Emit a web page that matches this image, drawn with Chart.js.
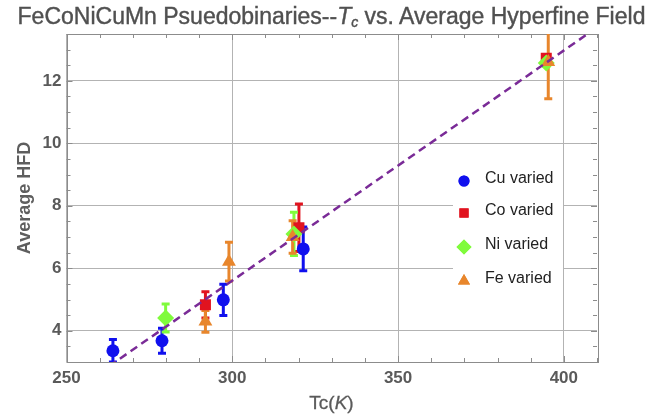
<!DOCTYPE html>
<html lang="en">
<head>
    <meta charset="UTF-8">
    <title>FeCoNiCuMn Psuedobinaries</title>
    <script src="https://cdn.jsdelivr.net/npm/chart.js"></script>
    <style>
        body {
            margin: 0;
            background: #fff;
            font-family: 'Liberation Sans', Arial, sans-serif;
        }
        .wrap {
            position: relative;
            width: 663px;
            height: 419px;
        }
        .title {
            position: absolute;
            left: 0;
            top: 3px;
            width: 663px;
            text-align: center;
            font-size: 23px;
            color: #505050;
            -webkit-text-stroke: 0.4px #505050;
            white-space: nowrap;
        }
        .title sub {
            font-size: 14px;
            vertical-align: -3px;
            line-height: 0;
        }
        .xlabel {
            position: absolute;
            left: 66px;
            width: 531px;
            top: 392px;
            text-align: center;
            font-size: 19px;
            color: #5a5a5a;
            -webkit-text-stroke: 0.3px #5a5a5a;
        }
        canvas {
            position: absolute;
            left: 0;
            top: 0;
        }
    </style>
</head>
<body>
    <div class="wrap">
        <canvas id="chart" width="663" height="419"></canvas>
        <div class="title">FeCoNiCuMn Psuedobinaries--<i>T</i><sub><i>c</i></sub> vs. Average Hyperfine Field</div>
        <div class="xlabel">Tc(<i>K</i>)</div>
    </div>

    <script>
        // data
        const cuX = [264.0, 278.8, 297.3, 321.4];
        const cuY = [3.36, 3.68, 4.99, 6.62];
        const cuErr = [0.36, 0.40, 0.50, 0.70];

        const coX = [291.9, 320.1, 394.7];
        const coY = [4.83, 7.30, 12.72];
        const coErr = [0.42, 0.76, 0.12];

        const niX = [279.9, 318.6, 394.7];
        const niY = [4.41, 7.10, 12.57];
        const niErr = [0.45, 0.69, 0.10];

        const feX = [291.9, 299.0, 318.2, 395.3];
        const feY = [4.30, 6.21, 7.00, 12.60];
        const feErr = [0.35, 0.62, 0.52, 1.17];

        // fitted line endpoints
        const fitX = [250, 410];
        const fitY = [1.92, 13.71];

        const xTicks = [250, 300, 350, 400];
        const yTicks = [4, 6, 8, 10, 12];

        const series = [
            { label: 'Cu varied', xs: cuX, ys: cuY, err: cuErr, color: '#1010ee', style: 'circle', radius: 6.5, legendRadius: 5.5 },
            { label: 'Co varied', xs: coX, ys: coY, err: coErr, color: '#e1131f', style: 'rect', radius: 7.8, legendRadius: 6.5 },
            { label: 'Ni varied', xs: niX, ys: niY, err: niErr, color: '#80fb3c', style: 'rectRot', radius: 8.5, legendRadius: 7.5 },
            { label: 'Fe varied', xs: feX, ys: feY, err: feErr, color: '#e8862c', style: 'triangle', radius: 8, legendRadius: 7 }
        ];

        const toPoints = (xs, ys) => xs.map((x, i) => ({ x: x, y: ys[i] }));

        const errorBars = {
            id: 'errorBars',
            beforeDatasetsDraw(chart) {
                const { ctx, chartArea: a, scales: { x, y } } = chart;
                ctx.save();
                ctx.beginPath();
                ctx.rect(a.left, a.top, a.right - a.left, a.bottom - a.top);
                ctx.clip();
                series.forEach(s => {
                    ctx.strokeStyle = s.color;
                    ctx.lineWidth = 3;
                    s.xs.forEach((xv, i) => {
                        const px = x.getPixelForValue(xv);
                        const top = y.getPixelForValue(s.ys[i] + s.err[i]);
                        const bot = y.getPixelForValue(s.ys[i] - s.err[i]);
                        ctx.beginPath();
                        ctx.moveTo(px, top);
                        ctx.lineTo(px, bot);
                        ctx.moveTo(px - 4, top);
                        ctx.lineTo(px + 4, top);
                        ctx.moveTo(px - 4, bot);
                        ctx.lineTo(px + 4, bot);
                        ctx.stroke();
                    });
                });
                ctx.restore();
            }
        };

        const frame = {
            id: 'frame',
            beforeDatasetsDraw(chart) {
                const { ctx, chartArea: a, scales: { x, y } } = chart;
                ctx.save();
                ctx.strokeStyle = '#8c8c8c';
                ctx.lineWidth = 1;
                ctx.beginPath();
                // minor and major ticks pointing inward, on all four sides
                for (let v = 250; v <= 410; v += 10) {
                    const px = Math.round(x.getPixelForValue(v)) + 0.5;
                    const len = v % 50 === 0 ? 6 : 4;
                    ctx.moveTo(px, a.bottom);
                    ctx.lineTo(px, a.bottom - len);
                    ctx.moveTo(px, a.top);
                    ctx.lineTo(px, a.top + len);
                }
                for (let v = 3; v <= 13.5; v += 0.5) {
                    const py = Math.round(y.getPixelForValue(v)) + 0.5;
                    const len = v % 2 === 0 ? 6 : 4;
                    ctx.moveTo(a.left, py);
                    ctx.lineTo(a.left + len, py);
                    ctx.moveTo(a.right, py);
                    ctx.lineTo(a.right - len, py);
                }
                ctx.stroke();
                ctx.strokeRect(Math.round(a.left) + 0.5, Math.round(a.top) + 0.5,
                    Math.round(a.right - a.left), Math.round(a.bottom - a.top));
                ctx.restore();
            }
        };

        const legendBox = {
            id: 'legendBox',
            afterDatasetsDraw(chart) {
                const ctx = chart.ctx;
                ctx.save();
                ctx.fillStyle = '#fff';
                ctx.fillRect(453, 166, 110, 130);
                const rows = [181, 213, 247, 281];
                ctx.font = '16px "Liberation Sans", Arial, sans-serif';
                ctx.textBaseline = 'middle';
                series.forEach((s, i) => {
                    ctx.fillStyle = s.color;
                    Chart.helpers.drawPoint(ctx, { pointStyle: s.style, radius: s.legendRadius, rotation: 0, borderWidth: 0 }, 464, rows[i]);
                    ctx.fill();
                    ctx.fillStyle = '#222';
                    ctx.fillText(s.label, 485, rows[i] - 2);
                });
                ctx.restore();
            }
        };

        const tickFont = { family: "'Liberation Sans', Arial, sans-serif", size: 17, weight: 'bold' };

        new Chart(document.getElementById('chart'), {
            type: 'scatter',
            data: {
                // later series drawn on top, as in the original
                datasets: series.map((s, i) => ({
                    label: s.label,
                    data: toPoints(s.xs, s.ys),
                    pointStyle: s.style,
                    pointRadius: s.radius,
                    backgroundColor: s.color,
                    borderColor: s.color,
                    borderWidth: 0,
                    order: series.length - i
                })).concat([{
                    type: 'line',
                    label: 'fit',
                    data: toPoints(fitX, fitY),
                    borderColor: '#7a2b97',
                    borderWidth: 2.5,
                    borderDash: [8, 5],
                    pointRadius: 0,
                    fill: false,
                    order: -1
                }])
            },
            options: {
                responsive: false,
                animation: false,
                layout: { padding: { left: 0, top: 34, right: 66, bottom: 0 } },
                plugins: {
                    legend: { display: false },
                    tooltip: { enabled: false }
                },
                scales: {
                    x: {
                        type: 'linear',
                        min: 250,
                        max: 410,
                        afterBuildTicks: s => { s.ticks = xTicks.map(v => ({ value: v })); },
                        afterFit: s => { s.height = 57; },
                        grid: { color: '#b3b3b3', drawTicks: false },
                        border: { display: false },
                        ticks: { color: '#5a5a5a', font: tickFont, padding: 6 }
                    },
                    y: {
                        type: 'linear',
                        min: 3,
                        max: 13.5,
                        afterBuildTicks: s => { s.ticks = yTicks.map(v => ({ value: v })); },
                        afterFit: s => { s.width = 66.5; },
                        grid: { color: '#b3b3b3', drawTicks: false },
                        border: { display: false },
                        title: {
                            display: true,
                            text: 'Average HFD',
                            color: '#5e5e5e',
                            font: { family: "'Liberation Sans', Arial, sans-serif", size: 18, weight: 'bold' },
                            padding: { top: 14, bottom: 4 }
                        },
                        ticks: { color: '#5a5a5a', font: tickFont, padding: 5 }
                    }
                }
            },
            plugins: [frame, errorBars, legendBox]
        });
    </script>
</body>
</html>
